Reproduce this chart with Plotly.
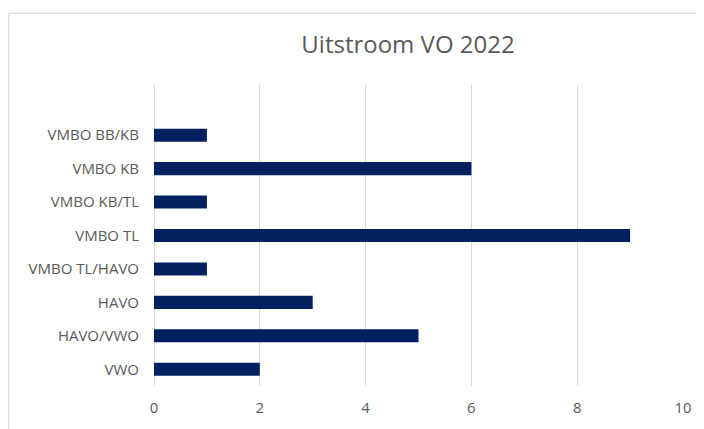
import plotly.graph_objects as go

categories = ["VMBO BB/KB", "VMBO KB", "VMBO KB/TL", "VMBO TL",
              "VMBO TL/HAVO", "HAVO", "HAVO/VWO", "VWO"]
values = [1, 6, 1, 9, 1, 3, 5, 2]
x_ticks = [0, 2, 4, 6, 8, 10]

OFF = 8  # page body margin
W, H = 704 - OFF, 429 - OFF
ml, mr, mt, mb = 154 - OFF, 21, 85 - OFF, 33
pw, ph = W - ml - mr, H - mt - mb

n = len(categories)
ypos = list(range(n - 1, -1, -1))

fig = go.Figure(go.Bar(
    x=values, y=ypos, orientation="h",
    marker=dict(color="#002060", line=dict(width=0)),
    width=0.39,
))

bx = (0.8 - ml) / pw
by = 1 + (mt - (11 - OFF)) / ph
fig.add_shape(type="line", xref="paper", yref="paper",
              x0=bx, x1=1.2, y0=by, y1=by, line=dict(color="#d9d9d9", width=1.3))
fig.add_shape(type="line", xref="paper", yref="paper",
              x0=bx, x1=bx, y0=-0.3, y1=by, line=dict(color="#d9d9d9", width=1.3))

fig.update_layout(
    width=W, height=H,
    margin=dict(l=ml, r=mr, t=mt, b=mb),
    paper_bgcolor="white", plot_bgcolor="white",
    showlegend=False,
    title=dict(text="Uitstroom VO 2022", x=(408 - OFF - ml) / pw, xref="paper",
               xanchor="center", y=1 - (45 - OFF) / H, yanchor="middle",
               font=dict(family="Open Sans", size=24, color="#595959")),
    font=dict(family="Open Sans", color="#595959"),
    xaxis=dict(range=[0, 10], tickvals=x_ticks, showgrid=True,
               gridcolor="#d9d9d9", gridwidth=1, zeroline=True,
               zerolinecolor="#d9d9d9", zerolinewidth=1, showline=False,
               ticks="", tickfont=dict(size=15, color="#595959"), ticklabelstandoff=11),
    yaxis=dict(range=[-0.5, n + 0.5], tickvals=ypos, ticktext=categories,
               showgrid=False, zeroline=False, showline=False, ticks="",
               tickfont=dict(size=15, color="#595959"), ticklabelstandoff=14),
)

fig.write_html("out.html")
